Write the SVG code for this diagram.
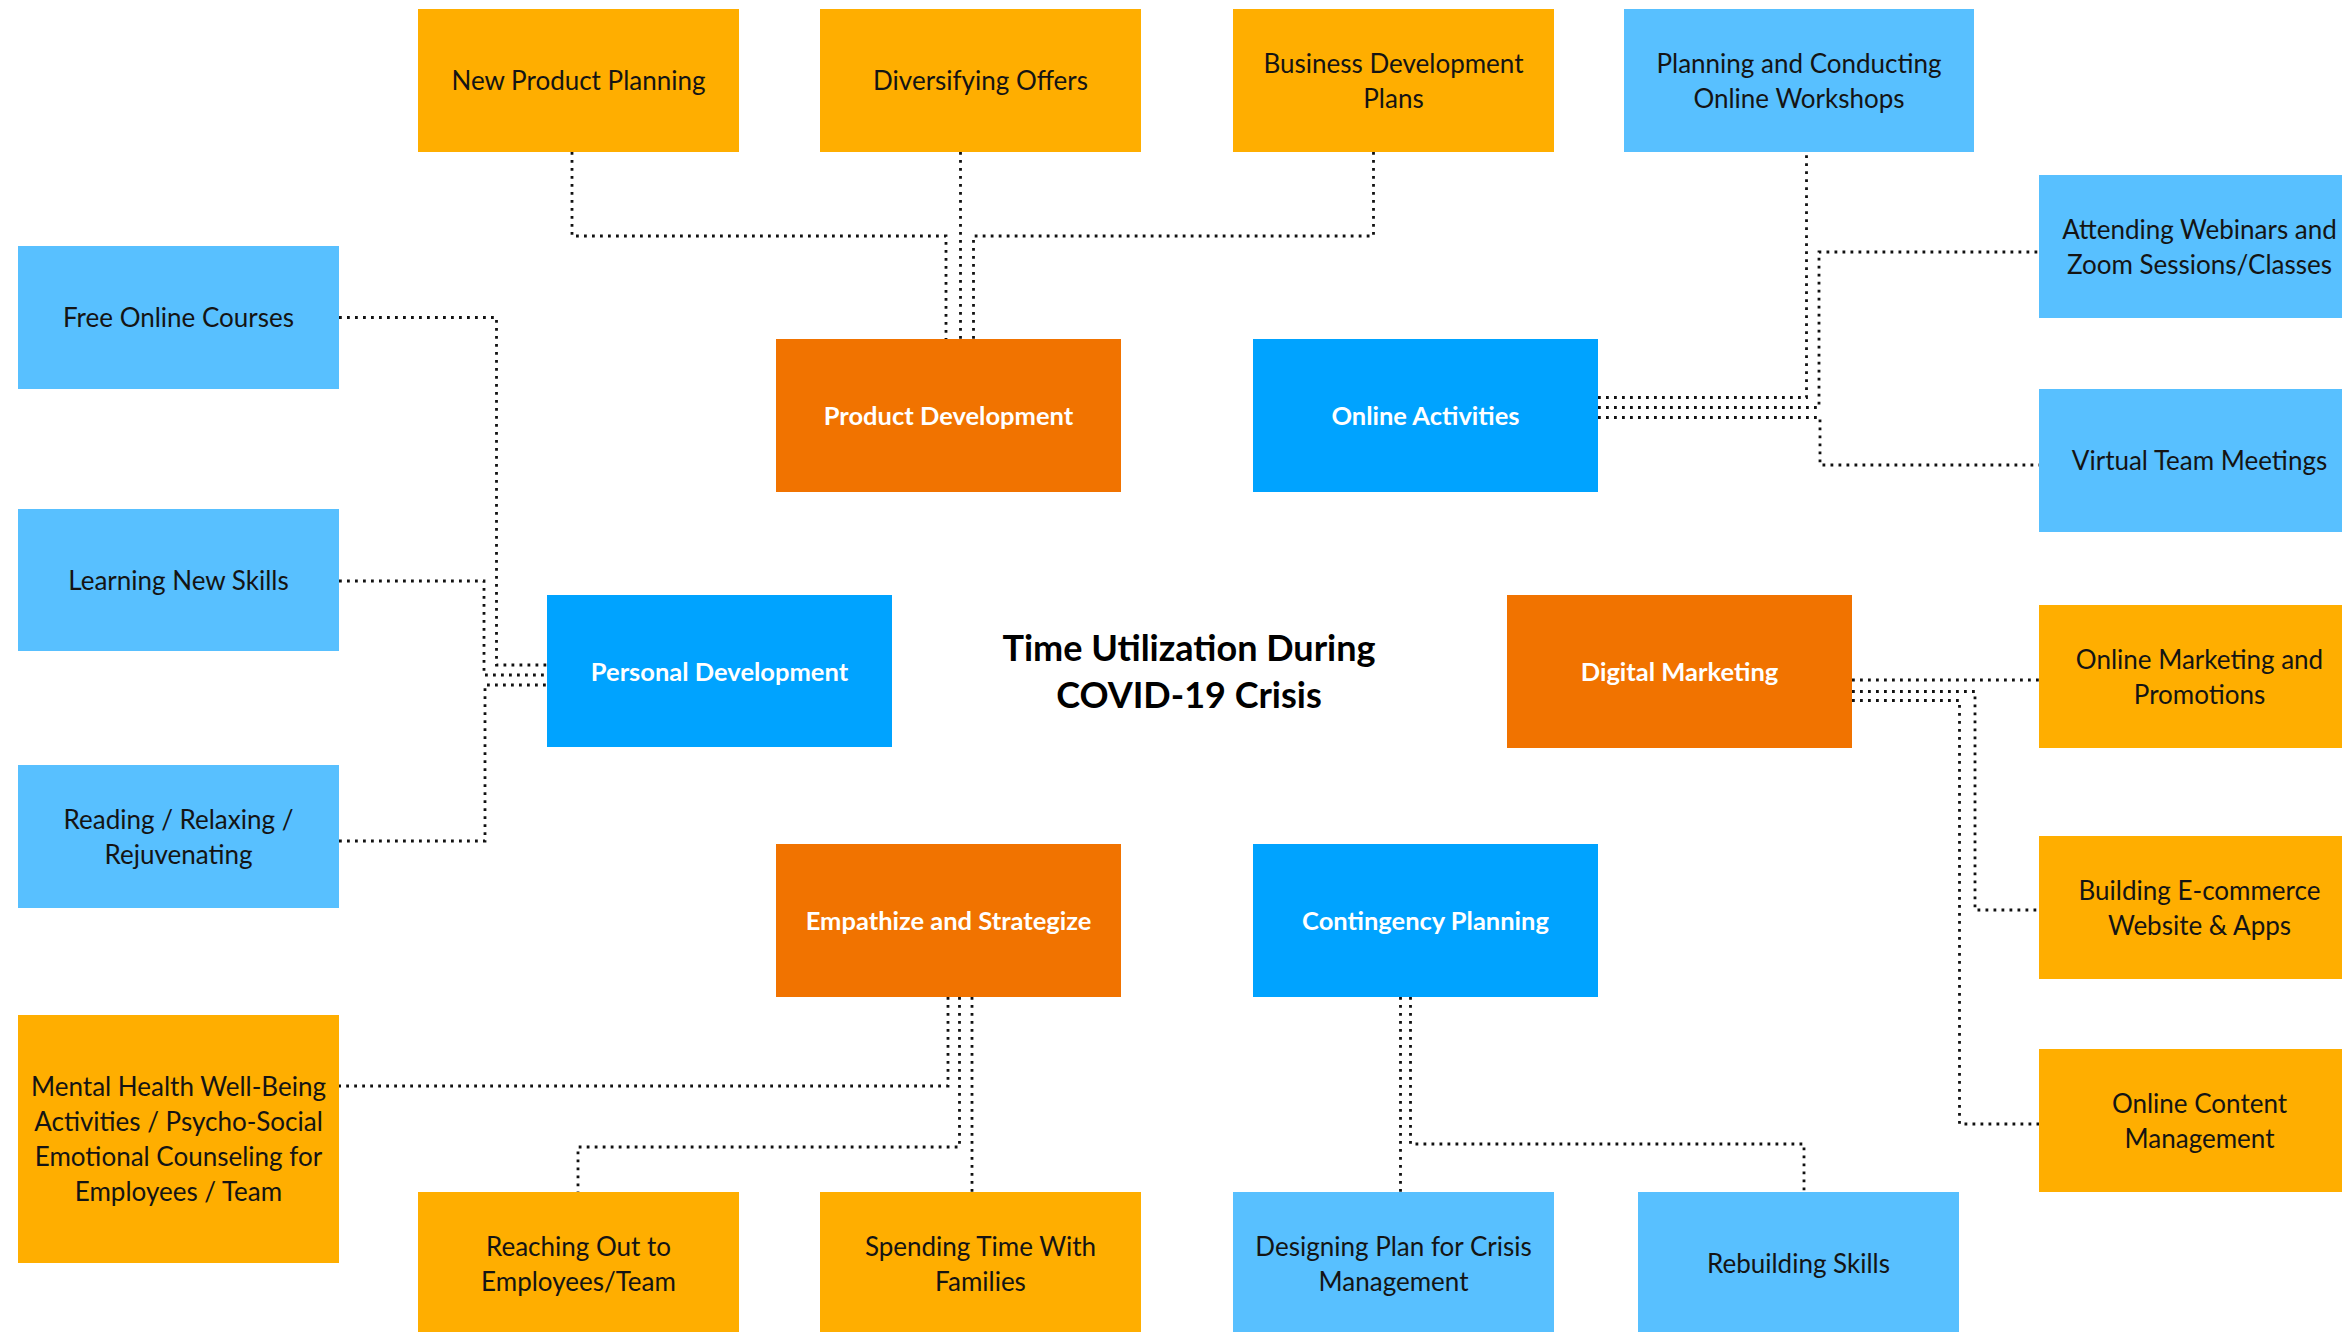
<svg xmlns="http://www.w3.org/2000/svg" width="2342" height="1332" viewBox="0 0 2342 1332">
<style>
.lo{fill:#FFAE00}
.lb{fill:#58C0FF}
.do{fill:#F17300}
.bb{fill:#00A3FF}
.t{font-family:Lato,"Open Sans","Liberation Sans",sans-serif;font-size:26px;fill:#141414;text-anchor:middle}
.tw{font-family:Lato,"Open Sans","Liberation Sans",sans-serif;font-size:25.5px;font-weight:bold;fill:#FFFFFF;text-anchor:middle}
.title{font-family:Lato,"Open Sans","Liberation Sans",sans-serif;font-size:36px;font-weight:bold;fill:#000000;text-anchor:middle}
.c{fill:none;stroke:#111111;stroke-width:2.8;stroke-dasharray:2.8 5.2}
</style>
<rect width="2342" height="1332" fill="#FFFFFF"/>
<g id="connectors">
<path class="c" d="M572,152 V236 H946 V339"/>
<path class="c" d="M960.5,152 V339"/>
<path class="c" d="M1373.5,152 V236 H973.5 V339"/>
<path class="c" d="M1598,397.5 H1806.5 V152"/>
<path class="c" d="M1598,407.5 H1819 V252 H2039"/>
<path class="c" d="M1598,417.5 H1820 V465 H2039"/>
<path class="c" d="M339,317.5 H496.5 V665 H547"/>
<path class="c" d="M339,581 H484 V675 H547"/>
<path class="c" d="M339,841 H485 V685 H547"/>
<path class="c" d="M1852,680 H2039"/>
<path class="c" d="M1852,691.5 H1975 V910 H2039"/>
<path class="c" d="M1852,700.5 H1959.5 V1124 H2039"/>
<path class="c" d="M948,997 V1086 H339"/>
<path class="c" d="M959.5,997 V1147 H578 V1192"/>
<path class="c" d="M972,997 V1192"/>
<path class="c" d="M1400.5,997 V1192"/>
<path class="c" d="M1410.5,997 V1144 H1804 V1192"/>
</g>
<g id="n-new-product"><rect class="lo" x="418" y="9" width="321" height="143"/><text class="t" x="578.5" y="90">New Product Planning</text></g>
<g id="n-diversifying"><rect class="lo" x="820" y="9" width="321" height="143"/><text class="t" x="980.5" y="90">Diversifying Offers</text></g>
<g id="n-business-dev"><rect class="lo" x="1233" y="9" width="321" height="143"/><text class="t" x="1393.5" y="72.5">Business Development</text><text class="t" x="1393.5" y="107.5">Plans</text></g>
<g id="n-workshops"><rect class="lb" x="1624" y="9" width="350" height="143"/><text class="t" x="1799" y="72.5">Planning and Conducting</text><text class="t" x="1799" y="107.5">Online Workshops</text></g>
<g id="n-webinars"><rect class="lb" x="2039" y="175" width="321" height="143"/><text class="t" x="2199.5" y="238.5">Attending Webinars and</text><text class="t" x="2199.5" y="273.5">Zoom Sessions/Classes</text></g>
<g id="n-free-courses"><rect class="lb" x="18" y="246" width="321" height="143"/><text class="t" x="178.5" y="327">Free Online Courses</text></g>
<g id="n-product-dev"><rect class="do" x="776" y="339" width="345" height="153"/><text class="tw" x="948.5" y="425">Product Development</text></g>
<g id="n-online-activities"><rect class="bb" x="1253" y="339" width="345" height="153"/><text class="tw" x="1425.5" y="425">Online Activities</text></g>
<g id="n-virtual-team"><rect class="lb" x="2039" y="389" width="321" height="143"/><text class="t" x="2199.5" y="470">Virtual Team Meetings</text></g>
<g id="n-learning"><rect class="lb" x="18" y="509" width="321" height="142"/><text class="t" x="178.5" y="589.5">Learning New Skills</text></g>
<g id="n-personal-dev"><rect class="bb" x="547" y="595" width="345" height="152"/><text class="tw" x="719.5" y="680.5">Personal Development</text></g>
<g id="n-title"><text class="title" x="1189" y="661">Time Utilization During</text><text class="title" x="1189" y="708">COVID-19 Crisis</text></g>
<g id="n-digital-marketing"><rect class="do" x="1507" y="595" width="345" height="153"/><text class="tw" x="1679.5" y="681">Digital Marketing</text></g>
<g id="n-online-marketing"><rect class="lo" x="2039" y="605" width="321" height="143"/><text class="t" x="2199.5" y="668.5">Online Marketing and</text><text class="t" x="2199.5" y="703.5">Promotions</text></g>
<g id="n-reading"><rect class="lb" x="18" y="765" width="321" height="143"/><text class="t" x="178.5" y="828.5">Reading / Relaxing /</text><text class="t" x="178.5" y="863.5">Rejuvenating</text></g>
<g id="n-empathize"><rect class="do" x="776" y="844" width="345" height="153"/><text class="tw" x="948.5" y="930">Empathize and Strategize</text></g>
<g id="n-contingency"><rect class="bb" x="1253" y="844" width="345" height="153"/><text class="tw" x="1425.5" y="930">Contingency Planning</text></g>
<g id="n-ecommerce"><rect class="lo" x="2039" y="836" width="321" height="143"/><text class="t" x="2199.5" y="899.5">Building E-commerce</text><text class="t" x="2199.5" y="934.5">Website &amp; Apps</text></g>
<g id="n-mental-health"><rect class="lo" x="18" y="1015" width="321" height="248"/><text class="t" x="178.5" y="1096">Mental Health Well-Being</text><text class="t" x="178.5" y="1131">Activities / Psycho-Social</text><text class="t" x="178.5" y="1166">Emotional Counseling for</text><text class="t" x="178.5" y="1201">Employees / Team</text></g>
<g id="n-content"><rect class="lo" x="2039" y="1049" width="321" height="143"/><text class="t" x="2199.5" y="1112.5">Online Content</text><text class="t" x="2199.5" y="1147.5">Management</text></g>
<g id="n-reaching"><rect class="lo" x="418" y="1192" width="321" height="143"/><text class="t" x="578.5" y="1255.5">Reaching Out to</text><text class="t" x="578.5" y="1290.5">Employees/Team</text></g>
<g id="n-spending"><rect class="lo" x="820" y="1192" width="321" height="143"/><text class="t" x="980.5" y="1255.5">Spending Time With</text><text class="t" x="980.5" y="1290.5">Families</text></g>
<g id="n-designing"><rect class="lb" x="1233" y="1192" width="321" height="143"/><text class="t" x="1393.5" y="1255.5">Designing Plan for Crisis</text><text class="t" x="1393.5" y="1290.5">Management</text></g>
<g id="n-rebuilding"><rect class="lb" x="1638" y="1192" width="321" height="143"/><text class="t" x="1798.5" y="1273">Rebuilding Skills</text></g>
</svg>
